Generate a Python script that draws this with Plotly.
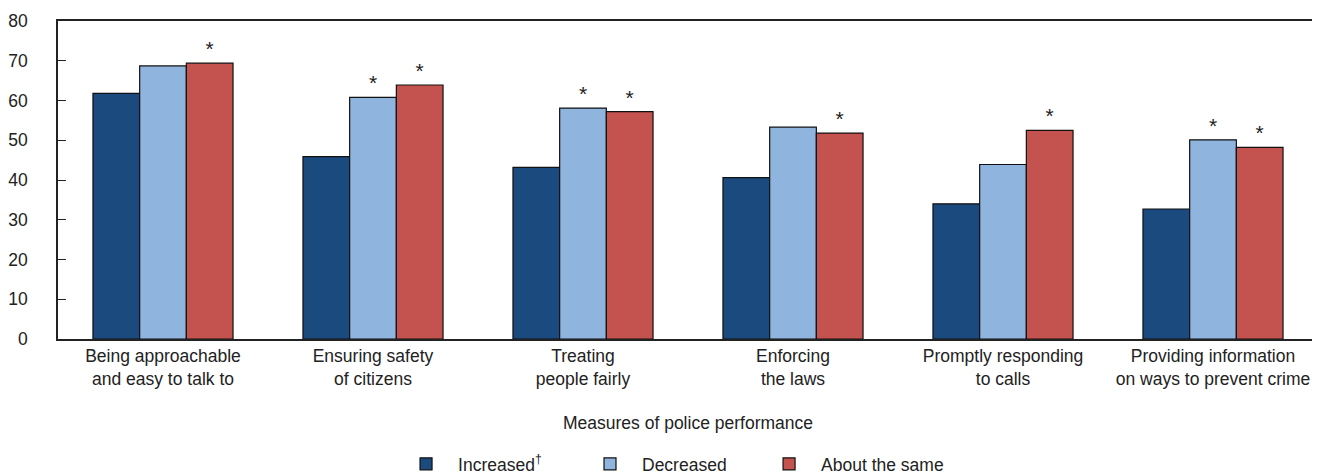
import plotly.graph_objects as go

categories = [
    "Being approachable<br>and easy to talk to",
    "Ensuring safety<br>of citizens",
    "Treating<br>people fairly",
    "Enforcing<br>the laws",
    "Promptly responding<br>to calls",
    "Providing information<br>on ways to prevent crime",
]
increased = [61.8, 45.9, 43.2, 40.6, 34.0, 32.7]
decreased = [68.7, 60.8, 58.1, 53.3, 43.9, 50.1]
same = [69.4, 63.9, 57.2, 51.8, 52.5, 48.2]
stars_increased = None
stars_decreased = ["", "*", "*", "", "", "*"]
stars_same = ["*", "*", "*", "*", "*", "*"]
y_ticks = [0, 10, 20, 30, 40, 50, 60, 70, 80]

FONT = "Liberation Sans, Arial, sans-serif"
FS = 17.5

series = [
    ("Increased<sup>†</sup>", increased, stars_increased, "#1a4a7e", "legend"),
    ("Decreased", decreased, stars_decreased, "#8fb4de", "legend2"),
    ("About the same", same, stars_same, "#c4524f", "legend3"),
]

fig = go.Figure()
for name, vals, stars, color, leg in series:
    kw = {}
    if stars is not None:
        kw = dict(text=stars, textposition="outside",
                  textfont=dict(size=21, color="#222222", family=FONT))
    fig.add_trace(go.Bar(
        x=categories, y=vals, name=name, legend=leg,
        marker=dict(color=color, line=dict(color="#111111", width=1.2)),
        cliponaxis=False, hoverinfo="x+y+name", **kw,
    ))

legend_common = dict(orientation="h", xanchor="left", y=-0.393, yanchor="middle",
                     font=dict(size=FS), itemwidth=54)

fig.update_layout(
    width=1312, height=466,
    barmode="group", bargap=0.333, bargroupgap=0,
    plot_bgcolor="white", paper_bgcolor="white",
    margin=dict(l=50, r=2, t=13, b=135, autoexpand=False),
    font=dict(family=FONT, size=FS, color="#222222"),
    showlegend=True,
    legend=dict(x=0.2667, **legend_common),
    legend2=dict(x=0.4127, **legend_common),
    legend3=dict(x=0.5548, **legend_common),
)
fig.update_yaxes(
    range=[0, 80], tickvals=y_ticks, ticks="inside", ticklen=8,
    tickcolor="#222222", showline=True, linecolor="#222222", linewidth=1.5,
    mirror=True, showgrid=False, zeroline=False, tickfont=dict(size=FS),
    automargin=False, ticklabelstandoff=25,
)
fig.update_xaxes(
    showline=True, linecolor="#222222", linewidth=1.5, mirror=True,
    ticks="", showgrid=False, tickfont=dict(size=FS), automargin=False,
    title=dict(text="Measures of police performance", font=dict(size=FS), standoff=29),
)

fig.write_html("out.html")
